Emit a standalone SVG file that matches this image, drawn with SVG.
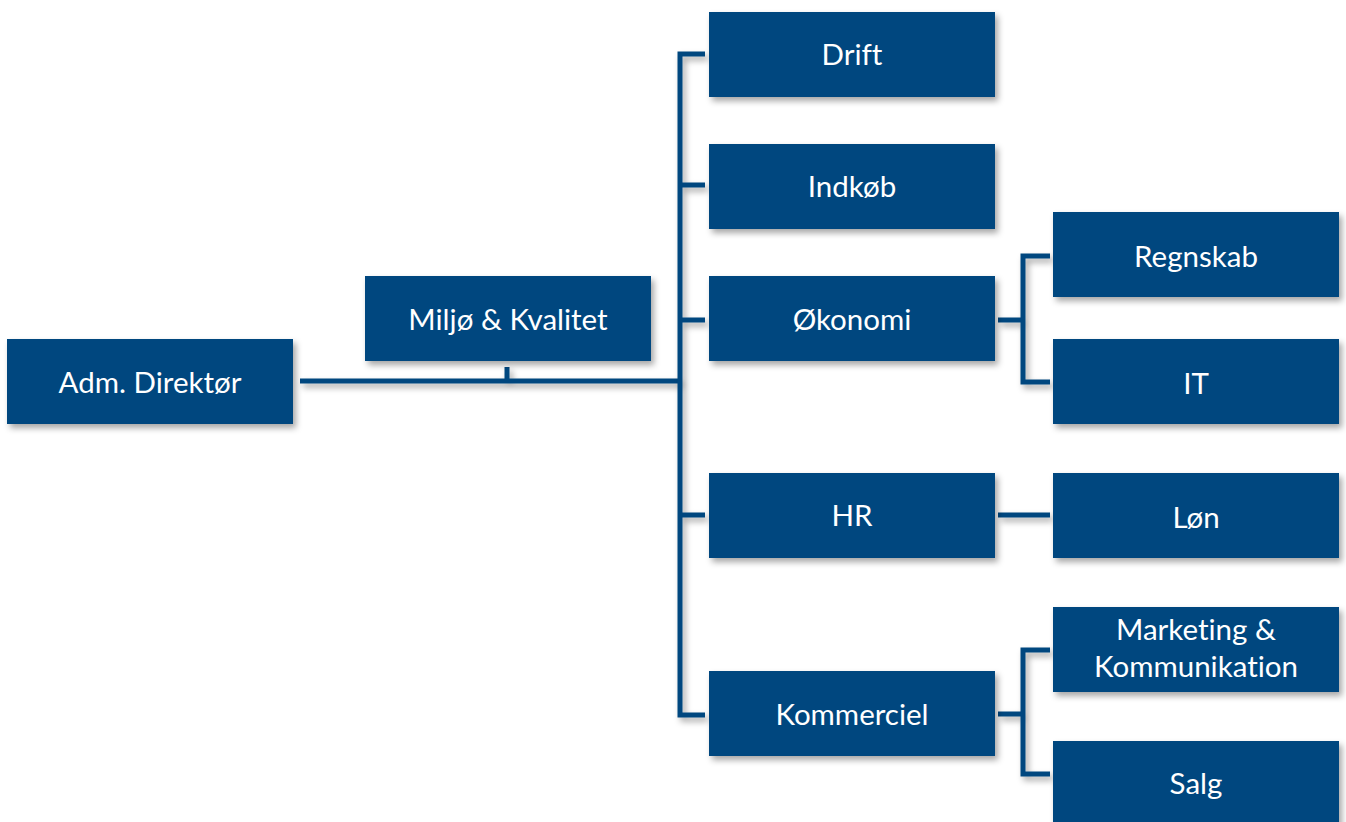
<svg xmlns="http://www.w3.org/2000/svg" width="1346" height="822" viewBox="0 0 1346 822">
<defs>
<filter id="sh" filterUnits="userSpaceOnUse" x="0" y="0" width="1346" height="822">
<feDropShadow dx="3" dy="4" stdDeviation="3" flood-color="#000" flood-opacity="0.35"/>
</filter>
<style>
.b{fill:#02467f;filter:url(#sh)}
.t{fill:#fff;font-family:Lato,"Open Sans","Liberation Sans",sans-serif;font-size:29.5px;text-anchor:middle;font-variant-ligatures:none}
.c{fill:none;stroke:#02467f;stroke-width:5;filter:url(#sh)}
</style>
</defs>
<rect width="1346" height="822" fill="#fff"/>
<g id="connectors">
<path class="c" d="M300 381H680M507 367V381"/>
<path class="c" d="M705 54H680V715H705M680 185H705M680 320H705M680 515H705"/>
<path class="c" d="M998 320H1023M1050 256H1023V382H1050"/>
<path class="c" d="M998 515H1050"/>
<path class="c" d="M998 714H1023M1050 650H1023V774H1050"/>
</g>
<g id="adm"><rect class="b" x="7" y="339" width="286" height="85"/><text class="t" x="150" y="393">Adm. Direktør</text></g>
<g id="miljo"><rect class="b" x="365" y="276" width="286" height="85"/><text class="t" x="508" y="330">Miljø &amp; Kvalitet</text></g>
<g id="drift"><rect class="b" x="709" y="12" width="286" height="85"/><text class="t" x="852" y="65">Drift</text></g>
<g id="indkob"><rect class="b" x="709" y="144" width="286" height="85"/><text class="t" x="852" y="197">Indkøb</text></g>
<g id="okonomi"><rect class="b" x="709" y="276" width="286" height="85"/><text class="t" x="852" y="330">Økonomi</text></g>
<g id="hr"><rect class="b" x="709" y="473" width="286" height="85"/><text class="t" x="852" y="526">HR</text></g>
<g id="kommerciel"><rect class="b" x="709" y="671" width="286" height="85"/><text class="t" x="852" y="725">Kommerciel</text></g>
<g id="regnskab"><rect class="b" x="1053" y="212" width="286" height="85"/><text class="t" x="1196" y="267">Regnskab</text></g>
<g id="it"><rect class="b" x="1053" y="339" width="286" height="85"/><text class="t" x="1196" y="394">IT</text></g>
<g id="lon"><rect class="b" x="1053" y="473" width="286" height="85"/><text class="t" x="1196" y="528">Løn</text></g>
<g id="marketing"><rect class="b" x="1053" y="607" width="286" height="85"/><text class="t" x="1196" y="640">Marketing &amp;</text><text class="t" x="1196" y="677">Kommunikation</text></g>
<g id="salg"><rect class="b" x="1053" y="741" width="286" height="85"/><text class="t" x="1196" y="794">Salg</text></g>
</svg>
